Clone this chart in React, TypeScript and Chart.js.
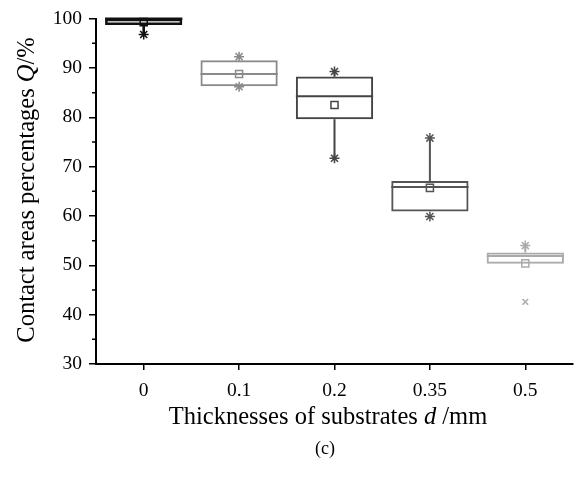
import React, { useEffect, useRef } from 'react';
import { Chart, registerables } from 'chart.js';
Chart.register(...registerables);

const categories = ['0', '0.1', '0.2', '0.35', '0.5'];
const q1 = [98.7, 86.3, 79.6, 60.9, 50.3];
const q3 = [100, 91.6, 88.3, 67.1, 52.6];
const medians = [100, 88.8, 84.3, 65.9, 51.9];
const means = [99.3, 88.8, 82.5, 65.7, 50.4];
const whiskerHigh = [100, 91.6, 89.0, 75.8, 54.0];
const whiskerLow = [96.8, 86.3, 71.7, 60.9, 50.3];
const maxMarks = [null, 92.3, 89.3, 75.8, 54.0];
const minMarks = [96.8, 86.2, 71.7, 59.9, null];
const outliers = [null, null, null, null, 42.6];
const yTicks = [30, 40, 50, 60, 70, 80, 90, 100];
const yMinorTicks = [35, 45, 55, 65, 75, 85, 95];

const colors = ['#111111', '#8a8a8a', '#444444', '#555555', '#ababab'];
const widths = [2.6, 2, 2, 2, 2];
const SERIF = '"Liberation Serif", "Times New Roman", serif';

function drawMixed(ctx: CanvasRenderingContext2D, parts: { t: string; i?: boolean }[], x: number, y: number, size: number) {
  const fonts = parts.map(p => `${p.i ? 'italic ' : ''}${size}px ${SERIF}`);
  let total = 0;
  const ws = parts.map((p, k) => { ctx.font = fonts[k]; const w = ctx.measureText(p.t).width; total += w; return w; });
  let cx = x - total / 2;
  ctx.textAlign = 'left';
  ctx.textBaseline = 'alphabetic';
  parts.forEach((p, k) => { ctx.font = fonts[k]; ctx.fillText(p.t, cx, y); cx += ws[k]; });
}

const boxPlugin = {
  id: 'boxParts',
  beforeDatasetsDraw(chart: any) {
    const ctx = chart.ctx;
    const y = chart.scales.y;
    const meta = chart.getDatasetMeta(0);
    ctx.save();
    meta.data.forEach((bar: any, i: number) => {
      const x = bar.x;
      const half = bar.width / 2;
      ctx.strokeStyle = colors[i];
      ctx.lineWidth = widths[i];
      ctx.beginPath();
      ctx.moveTo(x - half, y.getPixelForValue(medians[i]));
      ctx.lineTo(x + half, y.getPixelForValue(medians[i]));
      ctx.moveTo(x, y.getPixelForValue(q3[i]));
      ctx.lineTo(x, y.getPixelForValue(whiskerHigh[i]));
      ctx.moveTo(x, y.getPixelForValue(q1[i]));
      ctx.lineTo(x, y.getPixelForValue(whiskerLow[i]));
      ctx.stroke();
    });
    ctx.restore();
  },
  afterDraw(chart: any) {
    const ctx = chart.ctx;
    const y = chart.scales.y;
    const area = chart.chartArea;
    ctx.save();
    ctx.strokeStyle = '#000';
    ctx.lineWidth = 1.5;
    ctx.beginPath();
    yMinorTicks.forEach(v => {
      const py = y.getPixelForValue(v);
      ctx.moveTo(area.left - 4, py);
      ctx.lineTo(area.left, py);
    });
    ctx.stroke();
    ctx.fillStyle = '#000';
    drawMixed(ctx, [{ t: 'Thicknesses of substrates ' }, { t: 'd', i: true }, { t: ' /mm' }], 328, 424, 24.5);
    drawMixed(ctx, [{ t: '(c)' }], 325, 454, 18);
    ctx.translate(34, 190);
    ctx.rotate(-Math.PI / 2);
    drawMixed(ctx, [{ t: 'Contact areas percentages ' }, { t: 'Q', i: true }, { t: '/%' }], 0, 0, 24.5);
    ctx.restore();
  },
};

export default function App() {
  const ref = useRef<HTMLCanvasElement>(null);
  useEffect(() => {
    if (!ref.current) return;
    const pointSet = (data: (number | null)[], style: string, r: number) => ({
      type: 'line' as const,
      data,
      showLine: false,
      clip: false as any,
      pointStyle: style,
      pointRadius: r,
      pointHoverRadius: r,
      pointBorderColor: colors,
      pointBackgroundColor: 'rgba(0,0,0,0)',
      pointBorderWidth: 1.5,
    });
    const chart = new Chart(ref.current, {
      type: 'bar',
      data: {
        labels: categories,
        datasets: [
          {
            type: 'bar',
            data: q1.map((v, i) => [v, q3[i]]) as any,
            backgroundColor: 'rgba(0,0,0,0)',
            borderColor: colors,
            borderWidth: widths,
            borderSkipped: false,
            barPercentage: 0.81,
            categoryPercentage: 1,
            clip: false as any,
          } as any,
          pointSet(means, 'rect', 5),
          pointSet(maxMarks, 'star', 5),
          pointSet(minMarks, 'star', 5),
          pointSet(outliers, 'crossRot', 4),
        ],
      },
      options: {
        responsive: false,
        animation: false,
        events: [],
        layout: { padding: { left: 0, right: 11, top: 12, bottom: 0 } },
        plugins: { legend: { display: false }, tooltip: { enabled: false }, title: { display: false } },
        scales: {
          x: {
            offset: true,
            grid: { display: true, drawOnChartArea: false, drawTicks: true, tickLength: 6, offset: false, color: '#000', lineWidth: 1.5 },
            border: { display: true, color: '#000', width: 2 },
            ticks: { color: '#000', font: { family: SERIF, size: 19.5 }, padding: 9, maxRotation: 0 },
            afterFit: (s: any) => { s.height = 113; },
          },
          y: {
            min: 30,
            max: 100,
            afterBuildTicks: (s: any) => { s.ticks = yTicks.map(v => ({ value: v })); },
            grid: { display: true, drawOnChartArea: false, drawTicks: true, tickLength: 7, color: '#000', lineWidth: 1.5 },
            border: { display: true, color: '#000', width: 2 },
            ticks: { color: '#000', font: { family: SERIF, size: 19.5 }, padding: 7 },
            afterFit: (s: any) => { s.width = 96; },
          },
        },
      },
      plugins: [boxPlugin],
    });
    return () => chart.destroy();
  }, []);
  return (
    <div style={{ position: 'fixed', left: 0, top: 0, width: 584, height: 477, background: '#fff' }}>
      <canvas ref={ref} width={584} height={477} />
    </div>
  );
}
